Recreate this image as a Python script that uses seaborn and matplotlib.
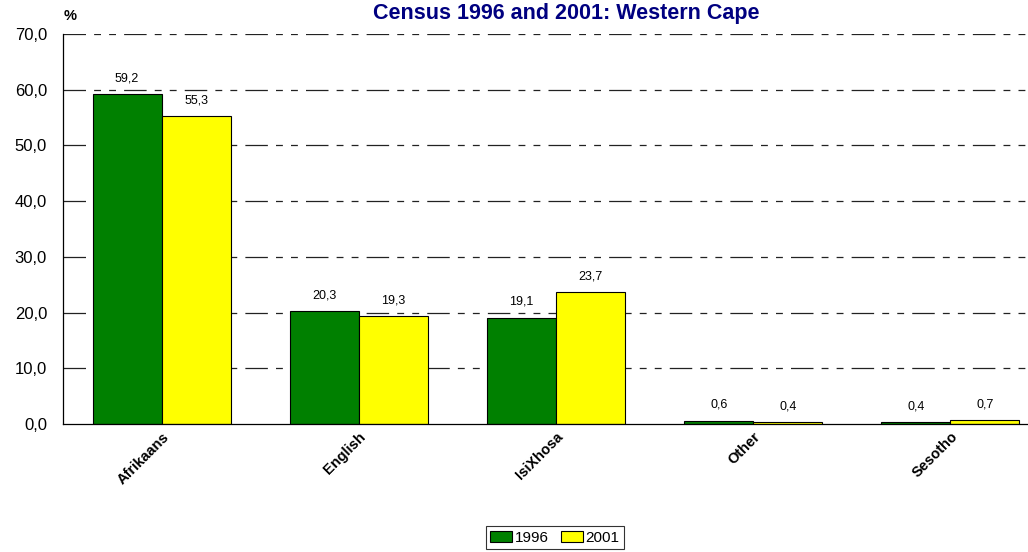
import matplotlib
matplotlib.use("Agg")
import matplotlib.pyplot as plt
import seaborn as sns
import pandas as pd

categories = ["Afrikaans", "English", "IsiXhosa", "Other", "Sesotho"]
years = ["1996", "2001"]
values_1996 = [59.2, 20.3, 19.1, 0.6, 0.4]
values_2001 = [55.3, 19.3, 23.7, 0.4, 0.7]
yticks = [0, 10, 20, 30, 40, 50, 60, 70]

df = pd.DataFrame({
    "Language": categories * 2,
    "Year": [years[0]] * len(categories) + [years[1]] * len(categories),
    "Percent": values_1996 + values_2001,
})

sns.set_theme(style="white")
plt.rcParams['font.family'] = ['Liberation Sans', 'DejaVu Sans']
plt.rcParams['text.color'] = 'black'
plt.rcParams['xtick.color'] = 'black'
plt.rcParams['ytick.color'] = 'black'
plt.rcParams['axes.labelcolor'] = 'black'

fig = plt.figure(figsize=(10.28, 5.52), dpi=100)
W, H = 1028, 552
ax = fig.add_axes([63 / W, 1 - 424 / H, (1049 - 63) / W, (424 - 34) / H])

sns.barplot(data=df, x="Language", y="Percent", hue="Year",
            palette=["#008000", "#FFFF00"], edgecolor="black", linewidth=0.8,
            width=0.7, saturation=1, ax=ax, legend=True, zorder=2)

ax.set_ylim(0, 70)
ax.set_xlim(-0.5, 4.5)
ax.set_yticks(yticks)
ax.set_yticklabels([f"{v:.1f}".replace(".", ",") for v in yticks], fontsize=12)
ax.tick_params(axis="y", length=0, pad=11.5)
ax.tick_params(axis="x", length=0, pad=4)
ax.set_xticks(range(len(categories)))
ax.set_xticklabels(categories, rotation=45, ha="right", rotation_mode="anchor",
                   fontsize=10.5, fontweight="bold")
ax.set_xlabel("")
ax.set_ylabel("")

for y in yticks[1:]:
    ax.axhline(y, color="#222222", linewidth=0.9,
               linestyle=(0, (18, 6.5, 5.5, 6.5, 5.5, 6.5)), zorder=0)

for side in ["top", "right"]:
    ax.spines[side].set_visible(False)
ax.spines["left"].set_color("black")
ax.spines["bottom"].set_color("black")
ax.spines["left"].set_linewidth(0.9)
ax.spines["bottom"].set_linewidth(0.9)

for cont in ax.containers:
    ax.bar_label(cont, labels=[f"{v:.1f}".replace(".", ",") for v in cont.datavalues],
                 padding=7, fontsize=9, color="black")

fig.text(70 / W, 1 - 16 / H, "%", fontsize=10.5, fontweight="bold", ha="center", va="center")
fig.text(566 / W, 1 - 13 / H, "Census 1996 and 2001: Western Cape", fontsize=15.5,
         fontweight="bold", color="#000080", ha="center", va="center")

leg = ax.legend(loc="upper center", bbox_to_anchor=(555 / W, 1 - 526 / H),
                bbox_transform=fig.transFigure, ncol=2, frameon=True, fancybox=False,
                fontsize=11, handlelength=1.4, handleheight=0.8, handletextpad=0.2,
                columnspacing=0.8, borderpad=0.3, borderaxespad=0)
leg.get_frame().set_edgecolor("black")
leg.get_frame().set_linewidth(0.8)

fig.savefig("out.png", dpi=100)
